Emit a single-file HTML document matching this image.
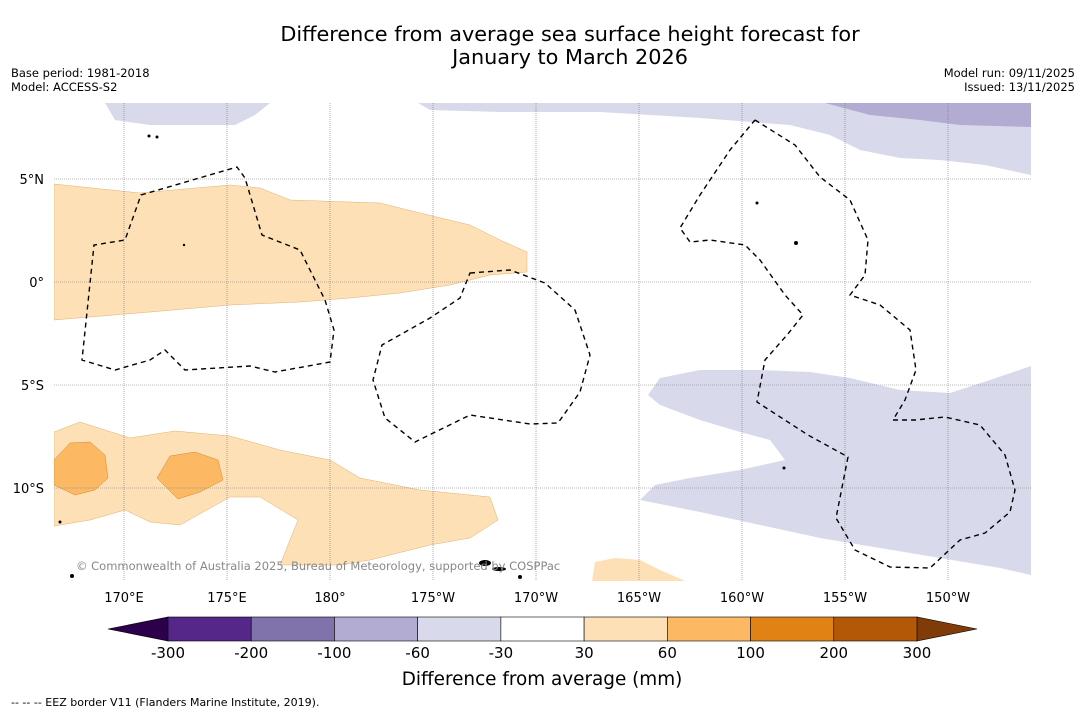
<!DOCTYPE html>
<html><head><meta charset="utf-8">
<style>
body{margin:0;background:#fff;font-family:"DejaVu Sans",sans-serif;}
#wrap{position:relative;width:1085px;height:713px;overflow:hidden;background:#fff}
</style></head>
<body>
<div id="wrap">
<svg id="svg" width="1085" height="713" xmlns="http://www.w3.org/2000/svg" font-family="DejaVu Sans, sans-serif">
  <text x="570" y="41" text-anchor="middle" font-size="20.8" fill="#000">Difference from average sea surface height forecast for</text>
  <text x="570" y="64" text-anchor="middle" font-size="20.8" fill="#000">January to March 2026</text>
  <text x="11" y="77" font-size="11.5">Base period: 1981-2018</text>
  <text x="11" y="91" font-size="11.5">Model: ACCESS-S2</text>
  <text x="1075" y="77" font-size="11.5" text-anchor="end">Model run: 09/11/2025</text>
  <text x="1075" y="91" font-size="11.5" text-anchor="end">Issued: 13/11/2025</text>
  <g id="map">
    <clipPath id="clip"><rect x="54" y="103" width="977" height="478"/></clipPath>
    <g clip-path="url(#clip)">
      <polygon fill="#fee0b6" stroke="#e0b070" stroke-width="0.5" points="54,184 140,193 230,185 260,188 290,200 350,202 380,203 420,213 470,225 500,240 527,252 527,272 490,275 450,285 400,293 350,298 300,302 230,305 150,312 54,320"/>
      <polygon fill="#fee0b6" stroke="#e0b070" stroke-width="0.5" points="54,432 80,422 130,438 175,431 230,436 280,450 330,460 360,478 420,490 490,497 498,520 470,538 430,545 370,560 340,565 280,565 298,520 260,497 230,497 180,525 150,522 125,510 90,520 54,526"/>
      <polygon fill="#fdb863" stroke="#d08a30" stroke-width="0.5" points="54,460 70,443 90,442 105,455 108,478 95,490 75,495 54,485"/>
      <polygon fill="#fdb863" stroke="#d08a30" stroke-width="0.5" points="157,478 170,456 195,452 218,460 223,480 200,492 178,499"/>
      <polygon fill="#fee0b6" points="592,581 595,562 615,558 640,560 660,570 685,581"/>
      <polygon fill="#d8daeb" points="105,103 270,103 255,115 235,125 190,125 150,125 115,120"/>
      <polygon fill="#d8daeb" points="418,103 1031,103 1031,175 985,165 940,160 900,158 860,150 830,135 790,125 700,118 600,112 500,112 430,110"/>
      <polygon fill="#b2abd2" points="825,103 1031,103 1031,127 960,125 920,120 870,115"/>
      <polygon fill="#d8daeb" points="648,395 660,378 700,370 760,370 810,372 850,378 900,390 950,393 990,380 1031,366 1031,575 1000,568 940,558 880,548 820,538 760,525 700,512 640,500 655,485 690,478 740,470 785,460 770,440 740,432 700,420 660,405"/>
      <g id="grid"></g>
      <g fill="none" stroke="#000" stroke-width="1.4" stroke-dasharray="5,4">
        <polygon points="141,195 237,167 245,178 262,235 300,250 325,300 334,330 330,362 275,372 250,366 185,370 165,350 150,360 115,370 82,360 94,245 125,240"/>
        <polygon points="470,273 510,270 545,283 575,310 590,355 580,392 558,423 530,424 470,415 415,442 385,418 373,380 382,345 430,318 460,298"/>
        <polyline points="755,120 795,145 820,177 850,200 868,240 865,275 850,295 880,305 910,330 916,370 905,400 893,420 915,420 945,417 980,425 1005,455 1015,490 1010,512 985,533 960,540 930,568 890,567 855,550 836,518 848,457 808,435 757,402 765,360 787,335 803,315 785,295 760,260 745,245 710,240 690,242 680,228 700,195 730,150 755,120"/>
      </g>
      <g fill="#000">
        <ellipse cx="485" cy="563" rx="6" ry="3"/><ellipse cx="499" cy="569" rx="7" ry="2"/>
        <circle cx="796" cy="243" r="2"/><circle cx="757" cy="203" r="1.5"/><circle cx="184" cy="245" r="1.2"/>
        <circle cx="72" cy="576" r="2"/><circle cx="60" cy="522" r="1.5"/><circle cx="520" cy="577" r="2"/>
        <circle cx="149" cy="136" r="1.5"/><circle cx="157" cy="137" r="1.5"/><circle cx="784" cy="468" r="1.5"/>
      </g>
    </g>
    <text x="76" y="570" font-size="11.5" fill="#888">© Commonwealth of Australia 2025, Bureau of Meteorology, supported by COSPPac</text>
    <g id="axisLabels"></g>
  </g>
  <g id="cbar"></g>
  <text x="542" y="685" font-size="18.4" text-anchor="middle">Difference from average (mm)</text>
  <text x="11" y="706" font-size="11">--  --  -- EEZ border V11 (Flanders Marine Institute, 2019).</text>
</svg>
</div>
<script>
const lonLabels = ["170°E","175°E","180°","175°W","170°W","165°W","160°W","155°W","150°W"];
const lonValues = [170,175,180,185,190,195,200,205,210];
const latLabels = ["5°N","0°","5°S","10°S"];
const latValues = [5,0,-5,-10];
const cbarTicks = ["-300","-200","-100","-60","-30","30","60","100","200","300"];
const cbarColors = ["#542788","#8073ac","#b2abd2","#d8daeb","#ffffff","#fee0b6","#fdb863","#e08214","#b35806"];
const cbarLowExtend = "#2d004b";
const cbarHighExtend = "#7f3b08";

const NS="http://www.w3.org/2000/svg";
const xLon = lon => 124 + (lon-170)*20.6;
const yLat = lat => 282 - lat*20.6;
const grid=document.getElementById('grid'), ax=document.getElementById('axisLabels');
lonValues.forEach((v,i)=>{
  const l=document.createElementNS(NS,'line');
  
  
  l.setAttribute('x1',xLon(v));l.setAttribute('x2',xLon(v));l.setAttribute('y1',103);l.setAttribute('y2',581);
  l.setAttribute('stroke','#777');l.setAttribute('stroke-width','0.6');l.setAttribute('stroke-dasharray','1,1');
  grid.appendChild(l);
  const t=document.createElementNS(NS,'text');
  
  
  t.setAttribute('x',xLon(v));t.setAttribute('y',602);t.setAttribute('text-anchor','middle');t.setAttribute('font-size','13');
  t.textContent=lonLabels[i];ax.appendChild(t);
});
latValues.forEach((v,i)=>{
  const l=document.createElementNS(NS,'line');
  
  
  l.setAttribute('x1',54);l.setAttribute('x2',1031);l.setAttribute('y1',yLat(v));l.setAttribute('y2',yLat(v));
  l.setAttribute('stroke','#777');l.setAttribute('stroke-width','0.6');l.setAttribute('stroke-dasharray','1,1');
  grid.appendChild(l);
  const t=document.createElementNS(NS,'text');
  
  
  t.setAttribute('x',44);t.setAttribute('y',yLat(v)+5);t.setAttribute('text-anchor','end');t.setAttribute('font-size','13');
  t.textContent=latLabels[i];ax.appendChild(t);
});
const cb=document.getElementById('cbar');
const x0=168, segW=(917-168)/cbarColors.length, y0=617, h=24;
const lo=document.createElementNS(NS,'polygon');


lo.setAttribute('points',`${x0},${y0} ${x0},${y0+h} 108,${y0+h/2}`);lo.setAttribute('fill',cbarLowExtend);lo.setAttribute('stroke','#000');lo.setAttribute('stroke-width','0.6');cb.appendChild(lo);
const hiX=x0+segW*cbarColors.length;
const hi=document.createElementNS(NS,'polygon');


hi.setAttribute('points',`${hiX},${y0} ${hiX},${y0+h} 977,${y0+h/2}`);hi.setAttribute('fill',cbarHighExtend);hi.setAttribute('stroke','#000');hi.setAttribute('stroke-width','0.6');cb.appendChild(hi);
cbarColors.forEach((c,i)=>{
  const r=document.createElementNS(NS,'rect');
  
  
  r.setAttribute('x',x0+i*segW);r.setAttribute('y',y0);r.setAttribute('width',segW);r.setAttribute('height',h);
  r.setAttribute('fill',c);r.setAttribute('stroke','#000');r.setAttribute('stroke-width','0.6');cb.appendChild(r);
});
cbarTicks.forEach((s,i)=>{
  const t=document.createElementNS(NS,'text');
  
  
  t.setAttribute('x',x0+i*segW);t.setAttribute('y',658);t.setAttribute('text-anchor','middle');t.setAttribute('font-size','15');
  t.textContent=s;cb.appendChild(t);
});
</script>
</body></html>
